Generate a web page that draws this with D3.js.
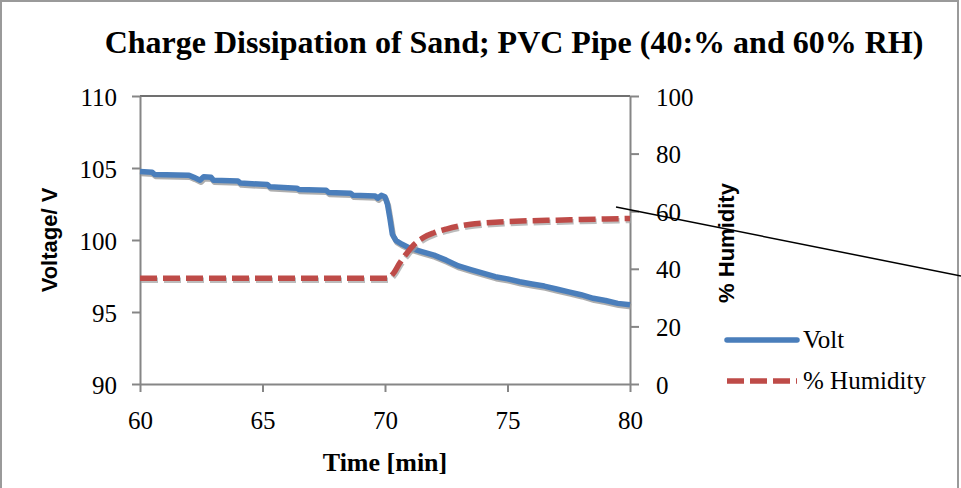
<!DOCTYPE html>
<html lang="en">
<head>
<meta charset="UTF-8">
<title>Charge Dissipation of Sand</title>
<script src="https://d3js.org/d3.v7.min.js"></script>
<style>
  body { margin: 0; background: #fff; }
  svg { display: block; }
</style>
</head>
<body>
<div id="chart"></div>
<script>
// time in minutes and voltage readings (left axis)
const voltTime = [60, 60.5, 60.6, 62.0, 62.2, 62.45, 62.6, 62.9, 63.0, 64.0, 64.1, 65.2, 65.3, 66.4, 66.5,
  67.6, 67.7, 68.6, 68.7, 69.6, 69.7, 69.85, 70.0, 70.1, 70.2, 70.3, 70.45, 70.7, 71.0, 71.5, 72.0,
  72.5, 73.0, 73.5, 74.0, 74.5, 75.0, 75.5, 76.0, 76.5, 77.0, 77.5, 78.0, 78.5, 79.0, 79.5, 80.0];
const voltValues = [104.75, 104.7, 104.55, 104.5, 104.35, 104.15, 104.4, 104.35, 104.15, 104.1, 103.95, 103.85, 103.7, 103.6, 103.5,
  103.45, 103.3, 103.25, 103.1, 103.05, 102.9, 103.1, 103.0, 102.5, 101.5, 100.4, 99.95, 99.7, 99.45, 99.2, 98.95,
  98.6, 98.2, 97.95, 97.7, 97.45, 97.3, 97.1, 96.95, 96.8, 96.6, 96.4, 96.2, 95.95, 95.8, 95.6, 95.5];

// time and relative humidity (right axis)
const humTime = [60, 70.1, 70.35, 70.6, 70.9, 71.2, 71.6, 72.0, 72.5, 73.0, 73.5, 74.0, 74.5, 75.0, 76, 77, 78, 79, 80];
const humValues = [36.7, 36.7, 38.5, 42, 45.5, 48.5, 51, 52.5, 53.8, 54.8, 55.5, 55.9, 56.2, 56.4, 56.7, 56.9, 57.1, 57.3, 57.5];

const xTicks = [60, 65, 70, 75, 80];
const leftTicks = [90, 95, 100, 105, 110];
const rightTicks = [0, 20, 40, 60, 80, 100];

// stray annotation line (time, volt)
const strayLine = [[79.43, 102.29], [93.51, 97.5]];

const W = 961, H = 488;
const blue = "#4a7ebb", red = "#be4b48", axisGrey = "#868686";
const serif = "Liberation Serif";
const sans = "Liberation Sans";

const svg = d3.select("#chart").append("svg")
  .attr("width", W).attr("height", H);

svg.append("rect")
  .attr("x", 1).attr("y", 1).attr("width", 957).attr("height", 495)
  .attr("fill", "#fff").attr("stroke", "#9a9a9a").attr("stroke-width", 2);

const x = d3.scaleLinear().domain([60, 80]).range([140, 630]);
const yL = d3.scaleLinear().domain([90, 110]).range([384, 96]);
const yR = d3.scaleLinear().domain([0, 100]).range([384, 96]);

// title
svg.append("text")
  .attr("x", 514).attr("y", 53)
  .attr("text-anchor", "middle")
  .attr("font-family", serif).attr("font-weight", "bold").attr("font-size", 32)
  .text("Charge Dissipation of Sand; PVC Pipe (40:% and 60% RH)");

// top border of plot area
svg.append("line")
  .attr("x1", x(60)).attr("x2", x(80)).attr("y1", yL(110)).attr("y2", yL(110))
  .attr("stroke", "#404040").attr("stroke-width", 1.5);

function styleAxis(g) {
  g.attr("font-family", serif).attr("font-size", 25);
  g.select(".domain").attr("stroke", axisGrey).attr("stroke-width", 2);
  g.selectAll(".tick line").attr("stroke", axisGrey).attr("stroke-width", 2);
  g.selectAll(".tick text").attr("fill", "#000")
    .attr("font-family", serif).attr("font-size", 25);
}

const gx = svg.append("g").attr("transform", `translate(0,${yL(90)})`)
  .call(d3.axisBottom(x).tickValues(xTicks).tickSize(8).tickSizeOuter(0).tickPadding(19));
styleAxis(gx);

const gl = svg.append("g").attr("transform", `translate(${x(60)},0)`)
  .call(d3.axisLeft(yL).tickValues(leftTicks).tickSize(8).tickSizeOuter(0).tickPadding(15));
styleAxis(gl);

const gr = svg.append("g").attr("transform", `translate(${x(80)},0)`)
  .call(d3.axisRight(yR).tickValues(rightTicks).tickSize(9).tickSizeOuter(0).tickPadding(17));
styleAxis(gr);
gr.selectAll(".tick text").attr("dy", "0.36em");
gl.selectAll(".tick text").attr("dy", "0.36em");

// axis titles
svg.append("text")
  .attr("x", 385).attr("y", 471)
  .attr("text-anchor", "middle")
  .attr("font-family", serif).attr("font-weight", "bold").attr("font-size", 26)
  .text("Time [min]");

svg.append("text")
  .attr("transform", "translate(57,240) rotate(-90)")
  .attr("text-anchor", "middle")
  .attr("font-family", sans).attr("font-weight", "bold").attr("font-size", 22)
  .text("Voltage/ V");

svg.append("text")
  .attr("transform", "translate(734,243) rotate(-90)")
  .attr("text-anchor", "middle")
  .attr("font-family", sans).attr("font-weight", "bold").attr("font-size", 22)
  .text("% Humidity");

// series
const voltData = voltTime.map((t, i) => [t, voltValues[i]]);
const humData = humTime.map((t, i) => [t, humValues[i]]);

const voltLine = d3.line().x(d => x(d[0])).y(d => yL(d[1]));
const humLine = d3.line().x(d => x(d[0])).y(d => yR(d[1])).curve(d3.curveMonotoneX);

svg.append("path").datum(voltData)
  .attr("d", voltLine).attr("transform", "translate(1,2)")
  .attr("fill", "none").attr("stroke", "#9a9a9a").attr("stroke-width", 5.5)
  .attr("stroke-opacity", 0.8).attr("stroke-linejoin", "round");
svg.append("path").datum(voltData)
  .attr("d", voltLine)
  .attr("fill", "none").attr("stroke", blue).attr("stroke-width", 5.5)
  .attr("stroke-linejoin", "round");

svg.append("path").datum(humData)
  .attr("d", humLine).attr("transform", "translate(1,2)")
  .attr("fill", "none").attr("stroke", "#a0a0a0").attr("stroke-width", 5.5)
  .attr("stroke-opacity", 0.7).attr("stroke-dasharray", "17,6");
svg.append("path").datum(humData)
  .attr("d", humLine)
  .attr("fill", "none").attr("stroke", red).attr("stroke-width", 5.5)
  .attr("stroke-dasharray", "17,6");

// stray line
svg.append("line")
  .attr("x1", x(strayLine[0][0])).attr("y1", yL(strayLine[0][1]))
  .attr("x2", x(strayLine[1][0])).attr("y2", yL(strayLine[1][1]))
  .attr("stroke", "#000").attr("stroke-width", 1.5);

// legend
const legend = svg.append("g");
legend.append("line")
  .attr("x1", 727).attr("x2", 797).attr("y1", 340).attr("y2", 340)
  .attr("stroke", blue).attr("stroke-width", 5.5).attr("stroke-linecap", "round");
legend.append("text")
  .attr("x", 803).attr("y", 348)
  .attr("font-family", serif).attr("font-size", 25)
  .text("Volt");
legend.append("line")
  .attr("x1", 727).attr("x2", 797).attr("y1", 381).attr("y2", 381)
  .attr("stroke", red).attr("stroke-width", 5.5).attr("stroke-dasharray", "17,6");
legend.append("text")
  .attr("x", 803).attr("y", 389)
  .attr("font-family", serif).attr("font-size", 25)
  .text("% Humidity");
</script>
</body>
</html>
